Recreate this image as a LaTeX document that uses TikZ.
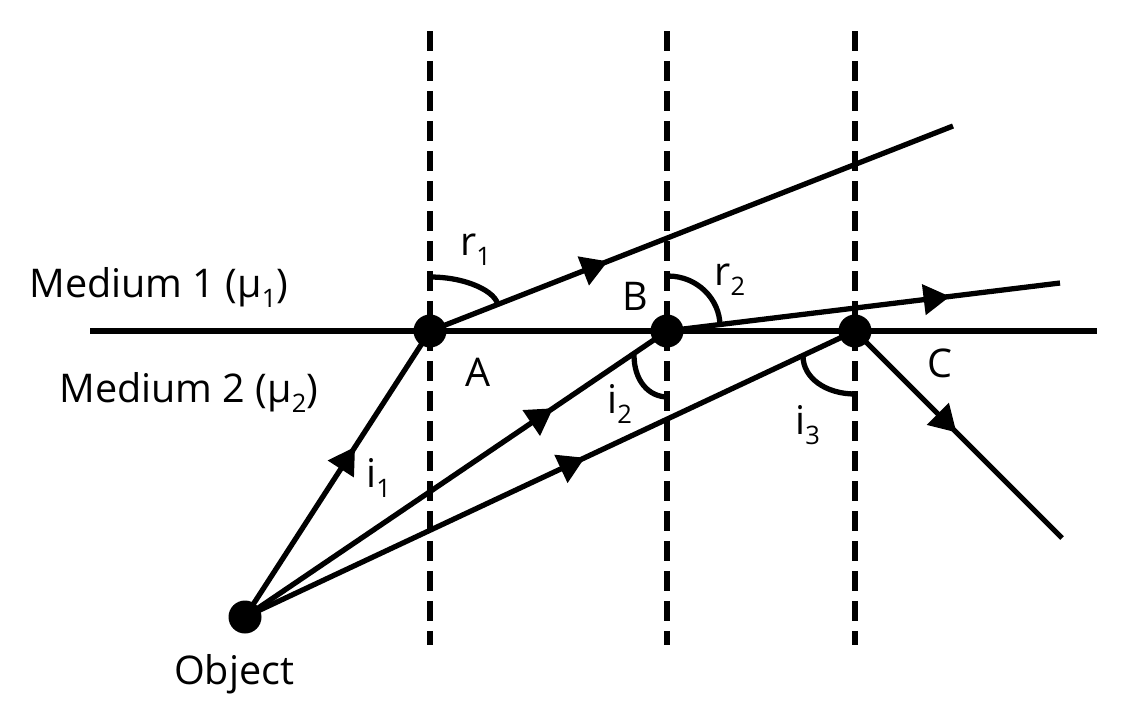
\documentclass[tikz,border=0pt]{standalone}
\usepackage{fontspec}
\setmainfont{Open Sans}
\usepackage{tikz}
\usetikzlibrary{arrows.meta, decorations.markings, positioning}

\newcommand{\lowsub}[1]{\raisebox{-6pt}{\fontsize{14.5}{14.5}\selectfont #1}}

\tikzset{
  ray/.style={line width=3pt, postaction={decorate},
    decoration={markings, mark=at position #1 with {\arrow{Triangle[length=15pt,width=17pt]}}}},
  normal/.style={line width=3pt, dash pattern=on 0.4cm off 0.2cm},
  surface/.style={line width=3pt},
  angarc/.style={line width=3pt},
  dot/.style={circle, fill=black, inner sep=0pt, minimum size=0.66cm},
  lbl/.style={font=\fontsize{22.5}{26}\selectfont, anchor=base, inner sep=0pt}
}

\begin{document}
\begin{tikzpicture}[x=0.02cm, y=-0.02cm]
  \useasboundingbox (0,0) rectangle (1138,724);

  % normals
  \foreach \x in {430,667,855}
    \draw[normal] (\x,31) -- (\x,645);

  % boundary between the media
  \coordinate (west) at (90,331);
  \coordinate (east) at (1097,331);
  \draw[surface] (west) -- (east);

  % points
  \node[dot] (O) at (245,617) {};
  \node[dot] (A) at (430,331) {};
  \node[dot] (B) at (667,331) {};
  \node[dot] (C) at (855,331) {};

  \coordinate (r1end) at (953,126);
  \coordinate (r2end) at (1060,283);
  \coordinate (cend) at (1062,538);

  % rays
  \draw[ray=0.595] (O.center) -- (A.center);
  \draw[ray=0.34] (A.center) -- (r1end);
  \draw[ray=0.73] (O.center) -- (B.center);
  \draw[ray=0.72] (B.center) -- (r2end);
  \draw[ray=0.557] (O.center) -- (C.center);
  \draw[ray=0.49] (C.center) -- (cend);

  % angles
  \draw[angarc] (430,277) .. controls (467,277) and (497,292) .. (498,306);
  \draw[angarc] (668,276) .. controls (697,276) and (720,299) .. (720,326);
  \draw[angarc] (634,355) .. controls (634,380) and (648,397) .. (668,397);
  \draw[angarc] (803,356) .. controls (803,378) and (826,394) .. (855,394);

  % labels
  \node[lbl, anchor=base west] (med1) at (29,297) {Medium 1 (µ\lowsub{1})};
  \node[lbl, anchor=base west] (med2) at (59,402) {Medium 2 (µ\lowsub{2})};
  \node[lbl] (labA) at (478,386) {A};
  \node[lbl] (labB) at (635,310) {B};
  \node[lbl] (labC) at (940,377) {C};
  \node[lbl, anchor=base west] (r1) at (460,255) {r\lowsub{1}};
  \node[lbl, anchor=base west] (r2) at (714,285) {r\lowsub{2}};
  \node[lbl, anchor=base west] (i1) at (366,487) {i\lowsub{1}};
  \node[lbl, anchor=base west] (i2) at (607,413) {i\lowsub{2}};
  \node[lbl, anchor=base west] (i3) at (795,434) {i\lowsub{3}};
  \node[lbl] (obj) at (234,684) {Object};
\end{tikzpicture}
\end{document}
